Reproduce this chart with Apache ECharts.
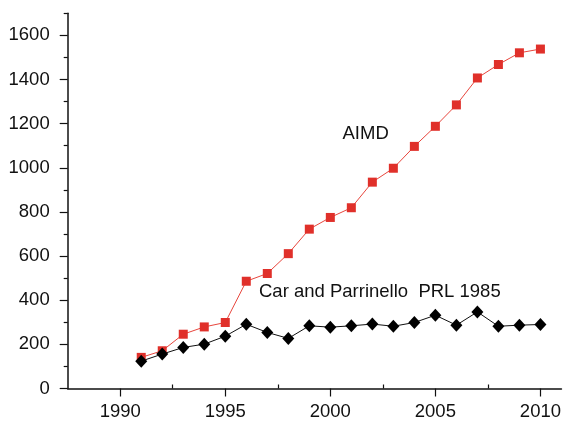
<!DOCTYPE html>
<html>
<head>
<meta charset="utf-8">
<script src="https://cdn.jsdelivr.net/npm/echarts@6/dist/echarts.min.js"></script>
<style>
html,body{margin:0;padding:0;background:#fff;}
#chart{width:564px;height:422px;}
</style>
</head>
<body>
<div id="chart"></div>
<script>
const years = [1991,1992,1993,1994,1995,1996,1997,1998,1999,2000,2001,2002,2003,2004,2005,2006,2007,2008,2009,2010];
const aimd = [141,171,246,279,299,486,521,611,722,775,819,935,998,1097,1188,1285,1407,1468,1521,1538];
const carParrinello = [124,156,186,201,237,291,254,227,284,278,284,292,282,299,332,287,347,282,287,290];
const xTickLabels = [1990,1995,2000,2005,2010];
const xMinorTicks = [1992.5,1997.5,2002.5,2007.5];
const yTickLabels = [0,200,400,600,800,1000,1200,1400,1600];
const yMinorTicks = [100,300,500,700,900,1100,1300,1500,1700];
const seriesNames = ['AIMD','Car and Parrinello  PRL 1985'];

const FONT = 'Liberation Sans, Arial, Helvetica, sans-serif';
const chart = echarts.init(document.getElementById('chart'), null, {renderer:'canvas'});
const axisLine = {show:true, lineStyle:{color:'#111', width:1.5}};
const baseX = {type:'value', min:1987.5, max:2011, splitLine:{show:false}};
const baseY = {type:'value', min:0, max:1700, splitLine:{show:false}};
const plain = v => String(v);

chart.setOption({
  animation:false,
  backgroundColor:'#fff',
  grid:{left:67.7, right:0, top:13.3, bottom:33.5, containLabel:false},
  xAxis:[
    Object.assign({}, baseX, {
      axisLine: axisLine,
      axisTick:{show:true, inside:false, length:8, customValues:xTickLabels, lineStyle:{color:'#111', width:1.2}},
      axisLabel:{show:true, customValues:xTickLabels, formatter:plain, margin:14, color:'#111', fontSize:18.5, fontFamily:FONT}
    }),
    Object.assign({}, baseX, {
      axisLine:{show:false},
      axisTick:{show:true, inside:false, length:4, customValues:xMinorTicks, lineStyle:{color:'#111', width:1.2}},
      axisLabel:{show:false}
    })
  ],
  yAxis:[
    Object.assign({}, baseY, {
      axisLine: axisLine,
      axisTick:{show:true, inside:false, length:8, customValues:yTickLabels, lineStyle:{color:'#111', width:1.2}},
      axisLabel:{show:true, customValues:yTickLabels, formatter:plain, margin:18, color:'#111', fontSize:18.5, fontFamily:FONT}
    }),
    Object.assign({}, baseY, {
      position:'left',
      axisLine:{show:false},
      axisTick:{show:true, inside:false, length:4, customValues:yMinorTicks, lineStyle:{color:'#111', width:1.2}},
      axisLabel:{show:false}
    })
  ],
  series:[
    {
      name:seriesNames[0], type:'line', xAxisIndex:0, yAxisIndex:0,
      data: years.map((y,i)=>[y, aimd[i]]),
      symbol:'rect', symbolSize:9, showAllSymbol:true,
      lineStyle:{color:'#e8463d', width:1},
      itemStyle:{color:'#e0302a'}
    },
    {
      name:seriesNames[1], type:'line', xAxisIndex:0, yAxisIndex:0,
      data: years.map((y,i)=>[y, carParrinello[i]]),
      symbol:'diamond', symbolSize:[12,13], showAllSymbol:true,
      lineStyle:{color:'#111', width:1},
      itemStyle:{color:'#000'}
    }
  ],
  graphic:[
    {type:'text', left:342.5, top:124.5, style:{text:seriesNames[0], font:'18.5px '+FONT, fill:'#111'}},
    {type:'text', left:259, top:282.5, style:{text:seriesNames[1], font:'18.5px '+FONT, fill:'#111'}}
  ]
});
</script>
</body>
</html>
